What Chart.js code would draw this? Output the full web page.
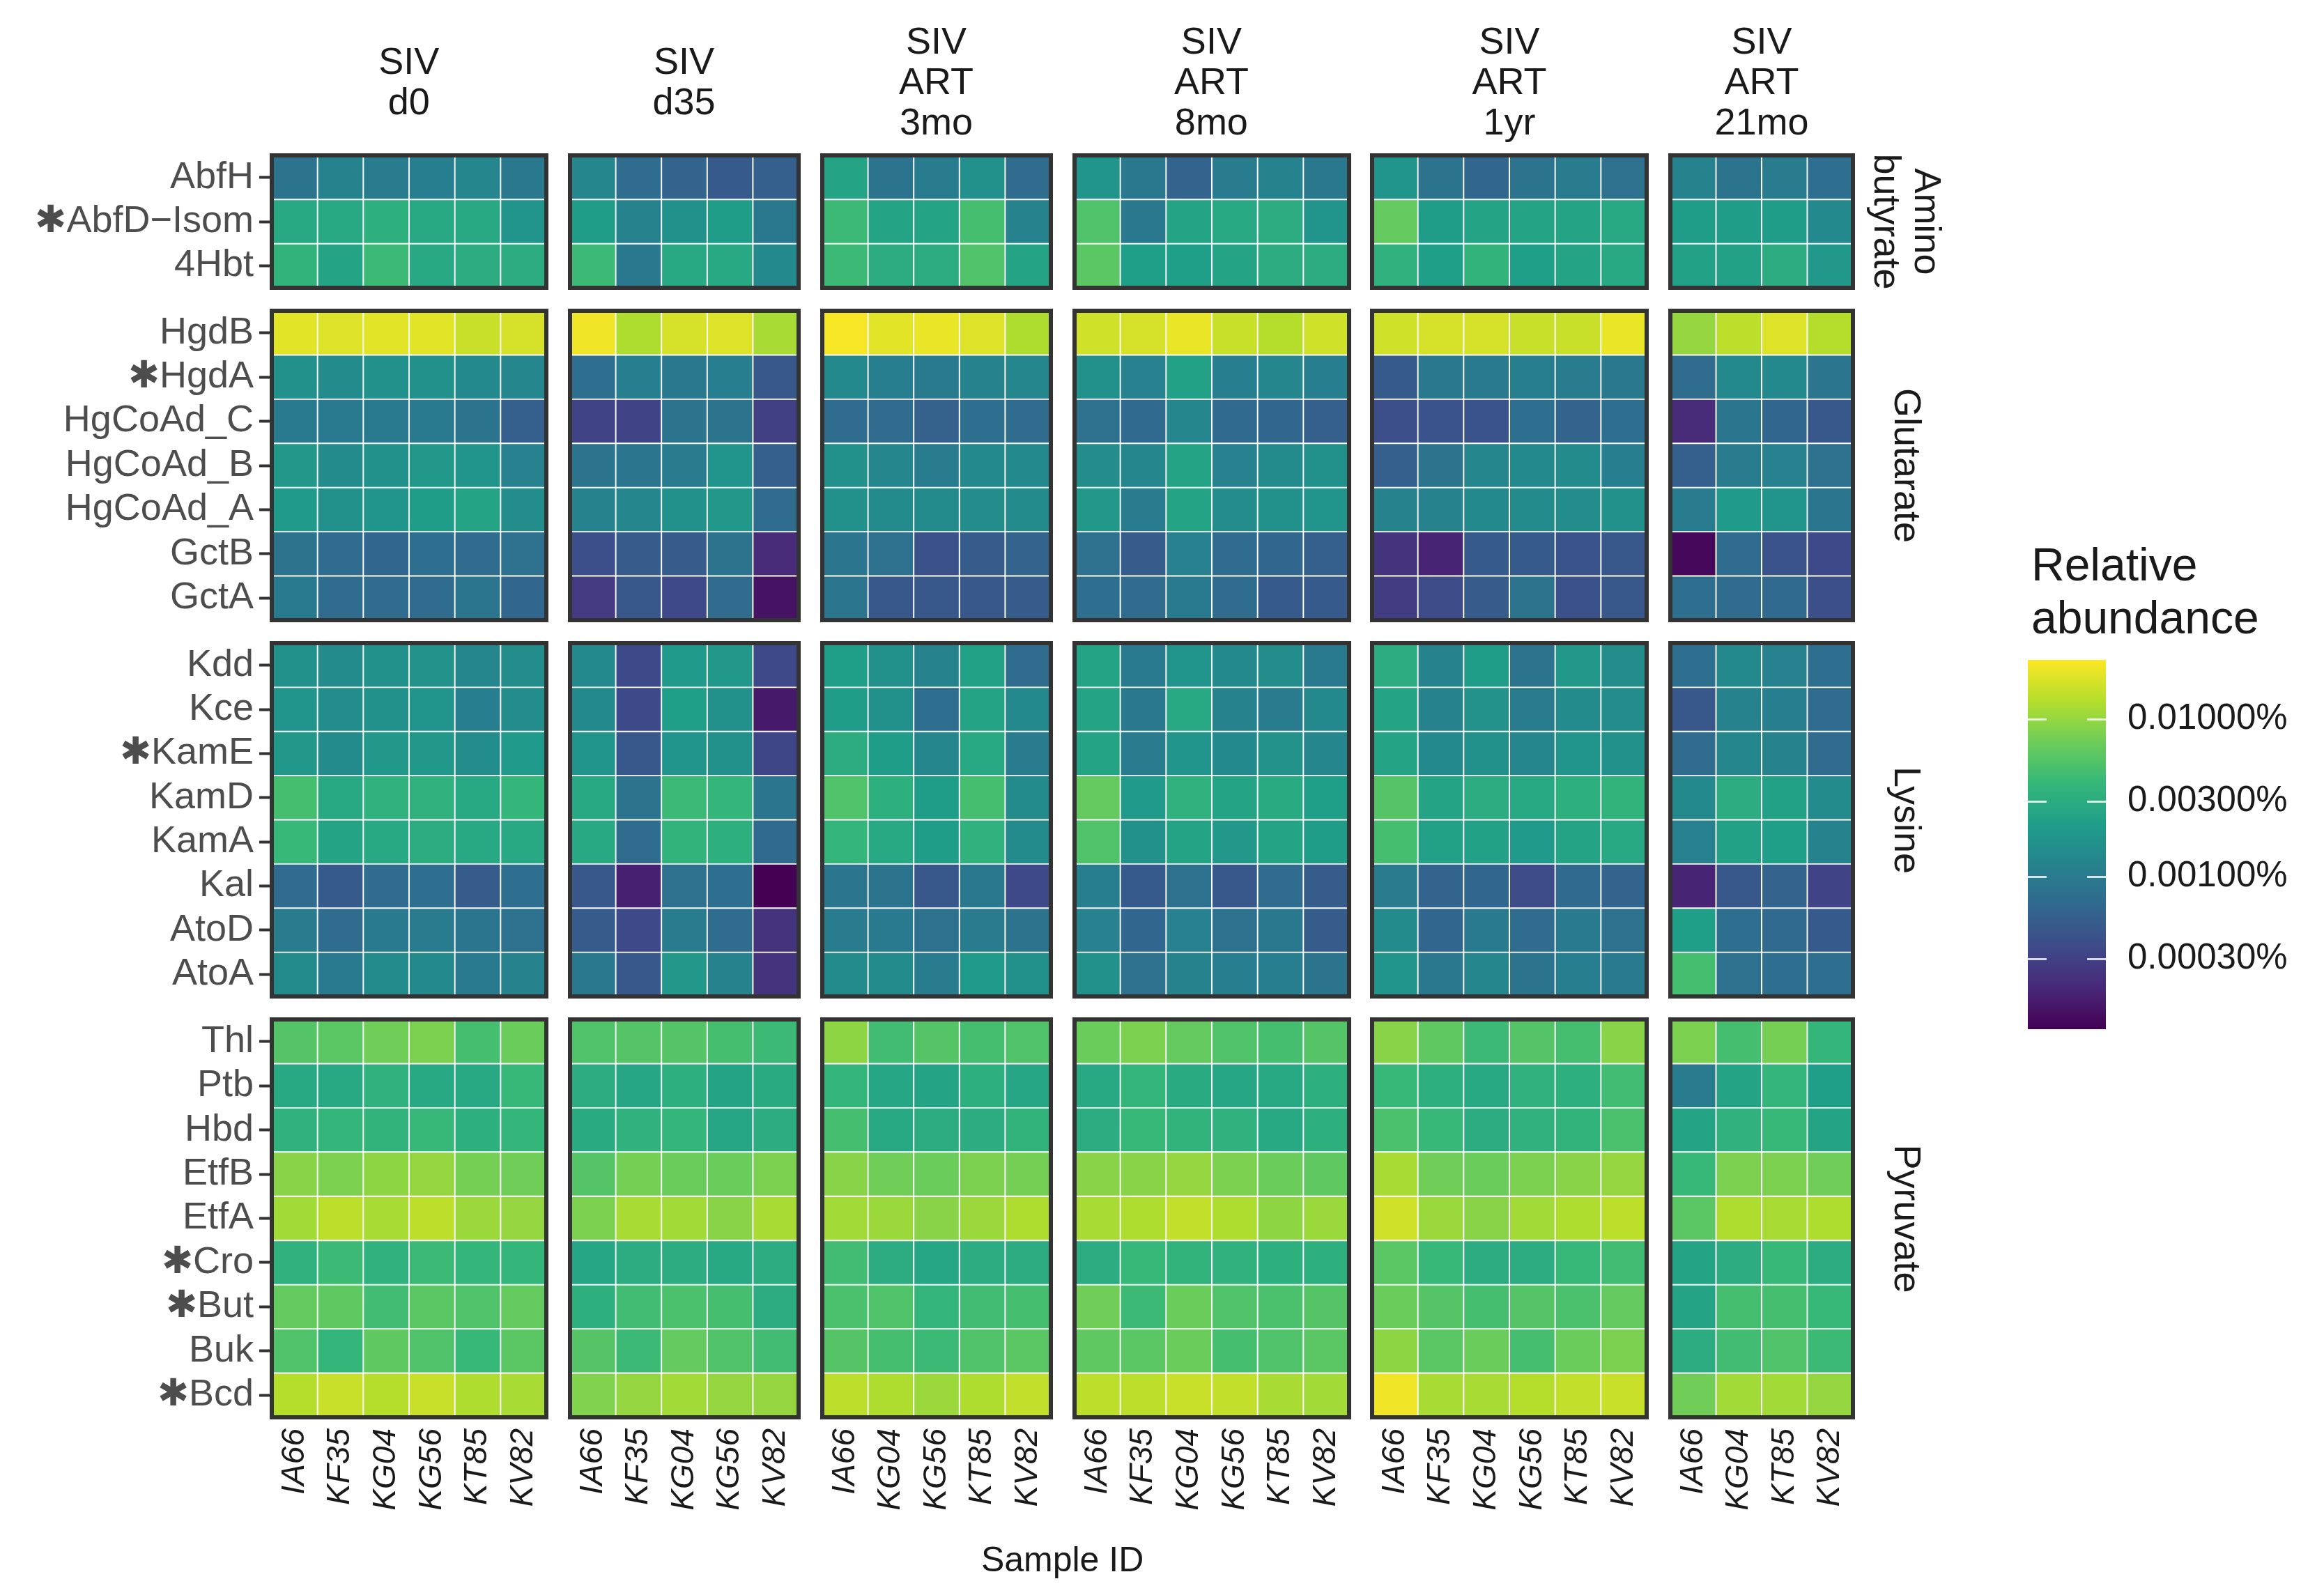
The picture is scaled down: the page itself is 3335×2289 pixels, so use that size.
<!DOCTYPE html>
<html>
<head>
<meta charset="utf-8">
<script src="https://cdn.jsdelivr.net/npm/chart.js@4.4.1/dist/chart.umd.min.js"></script>
<style>
  html, body { margin: 0; padding: 0; background: #fff; }
  #fig { position: relative; width: 3335px; height: 2289px; overflow: hidden;
         font-family: 'Liberation Sans', Arial, sans-serif; background: #fff; }
  #fig canvas { position: absolute; }
  .strip-top { position: absolute; text-align: center; font-size: 54px; line-height: 58px; color: #1a1a1a; }
  .strip-right { position: absolute; display: flex; align-items: center; justify-content: center;
                 text-align: center; font-size: 54px; line-height: 58px; color: #1a1a1a;
                 transform: rotate(90deg); transform-origin: center center; }
  .axis-title { position: absolute; font-size: 50px; line-height: 60px; color: #1a1a1a; text-align: center; }
  .legend-title { position: absolute; font-size: 66px; line-height: 76px; color: #1a1a1a; }
</style>
</head>
<body>
<div id="fig"></div>
<script>
// facets
const timepoints = [['SIV', 'd0'], ['SIV', 'd35'], ['SIV', 'ART', '3mo'], ['SIV', 'ART', '8mo'], ['SIV', 'ART', '1yr'], ['SIV', 'ART', '21mo']];
const samplesByTime = [
  ['IA66', 'KF35', 'KG04', 'KG56', 'KT85', 'KV82'],
  ['IA66', 'KF35', 'KG04', 'KG56', 'KV82'],
  ['IA66', 'KG04', 'KG56', 'KT85', 'KV82'],
  ['IA66', 'KF35', 'KG04', 'KG56', 'KT85', 'KV82'],
  ['IA66', 'KF35', 'KG04', 'KG56', 'KT85', 'KV82'],
  ['IA66', 'KG04', 'KT85', 'KV82']
];
const pathways = [['Amino', 'butyrate'], ['Glutarate'], ['Lysine'], ['Pyruvate']];
const aminoGenes = ['AbfH', 'AbfD−Isom', '4Hbt'];
const glutarateGenes = ['HgdB', 'HgdA', 'HgCoAd_C', 'HgCoAd_B', 'HgCoAd_A', 'GctB', 'GctA'];
const lysineGenes = ['Kdd', 'Kce', 'KamE', 'KamD', 'KamA', 'Kal', 'AtoD', 'AtoA'];
const pyruvateGenes = ['Thl', 'Ptb', 'Hbd', 'EtfB', 'EtfA', 'Cro', 'But', 'Buk', 'Bcd'];
const genesByPathway = [aminoGenes, glutarateGenes, lysineGenes, pyruvateGenes];
const starredGenes = ['AbfD−Isom', 'HgdA', 'KamE', 'Cro', 'But', 'Bcd'];

// relative abundance (%), one row per gene (amino, glutarate, lysine, pyruvate order), one value per sample
const abund_d0 = [
  [0.000835, 0.00122, 0.00104, 0.00109, 0.00129, 0.000930],
  [0.00274, 0.00274, 0.00322, 0.00274, 0.00274, 0.00178],
  [0.00359, 0.00246, 0.00422, 0.00274, 0.00305, 0.00305],
  [0.0191, 0.0182, 0.0191, 0.0191, 0.0154, 0.0172],
  [0.00160, 0.00143, 0.00160, 0.00160, 0.00136, 0.00129],
  [0.000982, 0.000982, 0.000982, 0.000982, 0.000835, 0.000541],
  [0.00188, 0.00143, 0.00160, 0.00188, 0.00178, 0.00115],
  [0.00198, 0.00160, 0.00178, 0.00209, 0.00246, 0.00151],
  [0.000835, 0.000710, 0.000637, 0.000749, 0.000710, 0.000791],
  [0.000982, 0.000710, 0.000710, 0.000710, 0.000881, 0.000637],
  [0.00160, 0.00143, 0.00160, 0.00168, 0.00129, 0.00151],
  [0.00178, 0.00151, 0.00160, 0.00178, 0.00109, 0.00151],
  [0.00188, 0.00143, 0.00188, 0.00188, 0.00151, 0.00198],
  [0.00470, 0.00274, 0.00340, 0.00340, 0.00274, 0.00379],
  [0.00400, 0.00246, 0.00274, 0.00305, 0.00274, 0.00274],
  [0.000710, 0.000486, 0.000710, 0.000749, 0.000513, 0.000749],
  [0.00104, 0.000710, 0.000982, 0.00104, 0.000881, 0.000791],
  [0.00143, 0.000982, 0.00143, 0.00136, 0.000982, 0.00122],
  [0.00553, 0.00584, 0.00725, 0.00807, 0.00470, 0.00687],
  [0.00274, 0.00274, 0.00340, 0.00274, 0.00274, 0.00400],
  [0.00340, 0.00379, 0.00359, 0.00400, 0.00322, 0.00379],
  [0.00899, 0.00807, 0.00949, 0.0100, 0.00764, 0.00725],
  [0.0112, 0.0138, 0.0118, 0.0138, 0.0106, 0.0100],
  [0.00340, 0.00422, 0.00340, 0.00422, 0.00379, 0.00379],
  [0.00650, 0.00616, 0.00446, 0.00584, 0.00524, 0.00650],
  [0.00524, 0.00379, 0.00616, 0.00524, 0.00400, 0.00584],
  [0.0131, 0.0154, 0.0131, 0.0154, 0.0124, 0.0118]
];
const abund_d35 = [
  [0.00129, 0.000710, 0.000603, 0.000486, 0.000541],
  [0.00209, 0.00122, 0.00160, 0.00209, 0.000930],
  [0.00422, 0.000930, 0.00274, 0.00274, 0.00136],
  [0.0213, 0.0124, 0.0172, 0.0182, 0.0118],
  [0.000749, 0.00109, 0.000930, 0.00109, 0.000460],
  [0.000316, 0.000316, 0.000835, 0.000835, 0.000299],
  [0.000835, 0.000881, 0.00104, 0.00178, 0.000541],
  [0.00122, 0.00129, 0.00160, 0.00188, 0.000710],
  [0.000392, 0.000513, 0.000513, 0.000835, 0.000205],
  [0.000269, 0.000460, 0.000352, 0.000710, 0.000140],
  [0.00136, 0.000352, 0.00198, 0.00188, 0.000352],
  [0.00136, 0.000352, 0.00221, 0.00160, 0.000156],
  [0.00178, 0.000460, 0.00178, 0.00160, 0.000333],
  [0.00274, 0.000835, 0.00422, 0.00379, 0.000881],
  [0.00274, 0.000710, 0.00359, 0.00322, 0.000672],
  [0.000460, 0.000174, 0.000791, 0.000749, 0.000107],
  [0.000513, 0.000352, 0.00104, 0.000710, 0.000241],
  [0.000930, 0.000460, 0.00188, 0.00122, 0.000241],
  [0.00524, 0.00553, 0.00553, 0.00470, 0.00422],
  [0.00305, 0.00260, 0.00322, 0.00246, 0.00289],
  [0.00289, 0.00340, 0.00379, 0.00260, 0.00305],
  [0.00553, 0.00764, 0.00687, 0.00687, 0.00807],
  [0.00807, 0.0118, 0.0112, 0.00899, 0.0118],
  [0.00260, 0.00305, 0.00305, 0.00274, 0.00305],
  [0.00322, 0.00446, 0.00496, 0.00470, 0.00305],
  [0.00553, 0.00422, 0.00650, 0.00524, 0.00446],
  [0.00851, 0.0100, 0.0112, 0.0100, 0.0100]
];
const abund_3mo = [
  [0.00246, 0.000835, 0.00104, 0.00160, 0.000710],
  [0.00422, 0.00246, 0.00246, 0.00470, 0.00122],
  [0.00422, 0.00305, 0.00305, 0.00524, 0.00246],
  [0.0225, 0.0191, 0.0202, 0.0182, 0.0124],
  [0.00136, 0.00109, 0.000982, 0.00122, 0.00129],
  [0.000710, 0.000710, 0.000571, 0.000749, 0.000710],
  [0.00160, 0.00129, 0.00104, 0.00136, 0.00136],
  [0.00160, 0.00143, 0.00143, 0.00151, 0.00143],
  [0.000881, 0.000791, 0.000413, 0.000513, 0.000603],
  [0.000881, 0.000460, 0.000460, 0.000460, 0.000513],
  [0.00221, 0.00160, 0.00122, 0.00233, 0.000710],
  [0.00209, 0.00160, 0.000749, 0.00246, 0.00136],
  [0.00305, 0.00209, 0.00129, 0.00274, 0.00104],
  [0.00524, 0.00322, 0.00209, 0.00470, 0.00143],
  [0.00379, 0.00274, 0.00209, 0.00340, 0.00143],
  [0.000881, 0.000835, 0.000460, 0.000930, 0.000352],
  [0.00104, 0.000982, 0.000791, 0.00104, 0.000835],
  [0.00143, 0.00143, 0.00104, 0.00198, 0.00160],
  [0.00949, 0.00446, 0.00553, 0.00470, 0.00524],
  [0.00379, 0.00260, 0.00246, 0.00322, 0.00260],
  [0.00470, 0.00274, 0.00305, 0.00305, 0.00359],
  [0.00899, 0.00725, 0.00687, 0.00807, 0.00764],
  [0.0112, 0.0106, 0.00899, 0.0106, 0.0124],
  [0.00446, 0.00305, 0.00260, 0.00305, 0.00305],
  [0.00496, 0.00524, 0.00379, 0.00446, 0.00470],
  [0.00553, 0.00470, 0.00422, 0.00524, 0.00584],
  [0.0138, 0.0124, 0.0106, 0.0124, 0.0146]
];
const abund_8mo = [
  [0.00178, 0.000930, 0.000603, 0.00104, 0.00122, 0.000930],
  [0.00524, 0.000930, 0.00246, 0.00274, 0.00305, 0.00178],
  [0.00584, 0.00221, 0.00221, 0.00246, 0.00305, 0.00305],
  [0.0163, 0.0172, 0.0202, 0.0154, 0.0131, 0.0163],
  [0.00160, 0.00115, 0.00233, 0.00109, 0.00129, 0.00109],
  [0.000791, 0.000672, 0.00129, 0.000672, 0.000637, 0.000541],
  [0.00151, 0.00129, 0.00246, 0.00115, 0.00143, 0.00160],
  [0.00188, 0.00104, 0.00246, 0.00151, 0.00160, 0.00178],
  [0.000791, 0.000513, 0.00115, 0.000710, 0.000637, 0.000541],
  [0.000749, 0.000710, 0.000982, 0.000710, 0.000486, 0.000486],
  [0.00246, 0.000982, 0.00178, 0.00136, 0.00151, 0.000982],
  [0.00246, 0.000930, 0.00274, 0.00122, 0.00104, 0.00136],
  [0.00246, 0.00104, 0.00178, 0.00136, 0.00168, 0.00129],
  [0.00650, 0.00198, 0.00340, 0.00246, 0.00289, 0.00221],
  [0.00524, 0.00160, 0.00246, 0.00188, 0.00246, 0.00209],
  [0.00109, 0.000486, 0.000791, 0.000460, 0.000710, 0.000513],
  [0.00115, 0.000637, 0.00115, 0.000791, 0.000930, 0.000513],
  [0.00160, 0.000791, 0.00122, 0.00109, 0.00109, 0.000835],
  [0.00687, 0.00807, 0.00650, 0.00524, 0.00470, 0.00553],
  [0.00274, 0.00379, 0.00289, 0.00260, 0.00274, 0.00322],
  [0.00305, 0.00400, 0.00359, 0.00340, 0.00274, 0.00322],
  [0.00899, 0.00899, 0.0100, 0.00807, 0.00687, 0.00616],
  [0.0118, 0.0124, 0.0146, 0.0124, 0.00949, 0.0106],
  [0.00305, 0.00400, 0.00359, 0.00340, 0.00322, 0.00322],
  [0.00725, 0.00422, 0.00687, 0.00524, 0.00496, 0.00553],
  [0.00616, 0.00584, 0.00687, 0.00470, 0.00524, 0.00584],
  [0.0138, 0.0138, 0.0154, 0.0146, 0.0118, 0.0112]
];
const abund_1yr = [
  [0.00178, 0.000835, 0.000637, 0.000835, 0.00104, 0.000791],
  [0.00650, 0.00209, 0.00246, 0.00246, 0.00246, 0.00274],
  [0.00340, 0.00221, 0.00359, 0.00221, 0.00246, 0.00274],
  [0.0163, 0.0172, 0.0172, 0.0154, 0.0154, 0.0202],
  [0.000486, 0.000930, 0.000982, 0.00109, 0.00104, 0.000930],
  [0.000392, 0.000436, 0.000436, 0.000749, 0.000603, 0.000749],
  [0.000541, 0.000835, 0.00129, 0.00136, 0.00143, 0.00109],
  [0.00122, 0.00122, 0.00136, 0.00143, 0.00151, 0.00160],
  [0.000241, 0.000184, 0.000486, 0.000486, 0.000436, 0.000460],
  [0.000283, 0.000371, 0.000513, 0.000835, 0.000413, 0.000460],
  [0.00305, 0.00122, 0.00209, 0.000835, 0.00188, 0.00151],
  [0.00246, 0.00122, 0.00168, 0.00104, 0.00143, 0.00151],
  [0.00246, 0.00136, 0.00160, 0.00129, 0.00178, 0.00160],
  [0.00553, 0.00246, 0.00305, 0.00274, 0.00322, 0.00359],
  [0.00470, 0.00233, 0.00233, 0.00198, 0.00246, 0.00274],
  [0.00104, 0.000603, 0.000637, 0.000371, 0.000672, 0.000603],
  [0.00143, 0.000637, 0.000982, 0.000710, 0.000982, 0.000791],
  [0.00178, 0.000930, 0.00129, 0.000835, 0.00109, 0.000982],
  [0.00899, 0.00616, 0.00422, 0.00553, 0.00470, 0.00899],
  [0.00400, 0.00322, 0.00274, 0.00340, 0.00322, 0.00446],
  [0.00496, 0.00400, 0.00305, 0.00340, 0.00359, 0.00496],
  [0.0118, 0.00725, 0.00687, 0.00807, 0.00899, 0.0100],
  [0.0163, 0.0106, 0.00899, 0.0112, 0.0124, 0.0138],
  [0.00584, 0.00400, 0.00305, 0.00305, 0.00400, 0.00446],
  [0.00687, 0.00553, 0.00470, 0.00553, 0.00496, 0.00650],
  [0.00949, 0.00584, 0.00687, 0.00470, 0.00687, 0.00807],
  [0.0213, 0.0118, 0.0118, 0.0131, 0.0146, 0.0154]
];
const abund_21mo = [
  [0.00122, 0.000835, 0.00104, 0.000749],
  [0.00209, 0.00209, 0.00209, 0.00136],
  [0.00233, 0.00233, 0.00305, 0.00188],
  [0.0100, 0.0138, 0.0182, 0.0131],
  [0.000710, 0.00136, 0.00136, 0.000881],
  [0.000205, 0.000881, 0.000637, 0.000460],
  [0.000541, 0.00104, 0.00115, 0.000791],
  [0.00104, 0.00198, 0.00178, 0.000881],
  [0.000119, 0.000710, 0.000436, 0.000352],
  [0.000749, 0.000710, 0.000672, 0.000392],
  [0.000749, 0.00136, 0.00115, 0.000749],
  [0.000460, 0.00122, 0.00109, 0.000710],
  [0.000710, 0.00129, 0.00122, 0.000710],
  [0.00136, 0.00305, 0.00233, 0.00143],
  [0.00115, 0.00233, 0.00221, 0.00122],
  [0.000184, 0.000460, 0.000603, 0.000316],
  [0.00221, 0.000749, 0.000672, 0.000486],
  [0.00470, 0.000791, 0.000749, 0.000749],
  [0.00807, 0.00470, 0.00764, 0.00379],
  [0.00104, 0.00246, 0.00379, 0.00221],
  [0.00246, 0.00340, 0.00400, 0.00246],
  [0.00400, 0.00807, 0.00807, 0.00725],
  [0.00584, 0.0124, 0.0118, 0.0124],
  [0.00246, 0.00305, 0.00400, 0.00305],
  [0.00246, 0.00470, 0.00470, 0.00400],
  [0.00305, 0.00446, 0.00524, 0.00422],
  [0.00725, 0.0112, 0.0112, 0.0100]
];
const abundByTime = [abund_d0, abund_d35, abund_3mo, abund_8mo, abund_1yr, abund_21mo];

// colour scale (log10 of %)
const legendTicks = [0.0003, 0.001, 0.003, 0.01];
const LOG_MIN = -3.97, LOG_MAX = -1.624;
const VIRIDIS = ['#440154', '#482878', '#3e4a89', '#31688e', '#26828e', '#1f9e89', '#35b779', '#6dcd59', '#b4de2c', '#fde725'];

// layout
const X0 = 390, CELL_W = 65.6, GAP_X = 34;
const Y0 = 223, ROW_H = 63.4, GAP_Y = 33;
const PAD = 6, X_AXIS_H = 190;

Chart.defaults.font.family = "'Liberation Sans', Arial, sans-serif";

function hexToRgb(h) {
  return [parseInt(h.slice(1, 3), 16), parseInt(h.slice(3, 5), 16), parseInt(h.slice(5, 7), 16)];
}
const viridisRgb = VIRIDIS.map(hexToRgb);

function colorFor(v) {
  let t = (Math.log10(v) - LOG_MIN) / (LOG_MAX - LOG_MIN);
  t = Math.max(0, Math.min(1, t));
  const p = t * (viridisRgb.length - 1);
  const i = Math.min(Math.floor(p), viridisRgb.length - 2);
  const f = p - i;
  const a = viridisRgb[i], b = viridisRgb[i + 1];
  const c = a.map((x, k) => Math.round(x + (b[k] - x) * f));
  return 'rgb(' + c.join(',') + ')';
}

// keep the axes from shrinking the plot area to fit their end labels
function noScalePadding(s) {
  s.paddingTop = 0; s.paddingBottom = 0; s.paddingLeft = 0; s.paddingRight = 0;
}

const fig = document.getElementById('fig');

// panel positions
const panelX = [];
let x = X0;
samplesByTime.forEach(s => { panelX.push(x); x += s.length * CELL_W + GAP_X; });
const panelY = [];
let y = Y0;
genesByPathway.forEach(g => { panelY.push(y); y += g.length * ROW_H + GAP_Y; });

const frame = {
  id: 'frame',
  afterDatasetsDraw(chart) {
    const a = chart.chartArea, ctx = chart.ctx;
    ctx.save();
    ctx.strokeStyle = '#333333';
    ctx.lineWidth = 6;
    ctx.strokeRect(a.left, a.top, a.right - a.left, a.bottom - a.top);
    ctx.restore();
  }
};

function makePanel(r, c) {
  const samples = samplesByTime[c];
  const genes = genesByPathway[r];
  const rowOffset = genesByPathway.slice(0, r).reduce((n, g) => n + g.length, 0);
  const values = abundByTime[c];
  const showY = c === 0;
  const showX = r === genesByPathway.length - 1;
  const px = panelX[c], py = panelY[r];
  const pw = samples.length * CELL_W, ph = genes.length * ROW_H;

  const left = showY ? 0 : px - PAD;
  const top = py - PAD;
  const width = Math.round(px + pw + PAD - left);
  const height = Math.round((showX ? py + ph + X_AXIS_H : py + ph + PAD) - top);

  const canvas = document.createElement('canvas');
  canvas.width = width;
  canvas.height = height;
  canvas.style.left = left + 'px';
  canvas.style.top = top + 'px';
  fig.appendChild(canvas);

  new Chart(canvas, {
    type: 'bar',
    data: {
      labels: samples,
      datasets: genes.map((g, i) => ({
        label: g,
        data: samples.map(() => [i - 0.5, i + 0.5]),
        backgroundColor: samples.map((s, j) => colorFor(values[rowOffset + i][j])),
        borderColor: '#ffffff',
        borderWidth: 1.3,
        borderSkipped: false,
        grouped: false,
        barPercentage: 1,
        categoryPercentage: 1
      }))
    },
    options: {
      responsive: false,
      animation: false,
      devicePixelRatio: 1,
      layout: { padding: { left: showY ? 0 : PAD, right: PAD, top: PAD, bottom: showX ? 0 : PAD } },
      plugins: { legend: { display: false }, tooltip: { enabled: false } },
      scales: {
        x: {
          type: 'category',
          display: showX,
          grid: { display: false, drawTicks: false },
          border: { display: false },
          ticks: {
            autoSkip: false, minRotation: 90, maxRotation: 90, padding: 16,
            color: '#1a1a1a', font: { size: 46, style: 'italic' }
          },
          afterFit: s => { noScalePadding(s); if (showX) s.height = X_AXIS_H; }
        },
        y: {
          type: 'linear',
          reverse: true,
          min: -0.5,
          max: genes.length - 0.5,
          display: showY,
          afterBuildTicks: s => { s.ticks = genes.map((g, i) => ({ value: i })); },
          grid: { drawOnChartArea: false, drawTicks: true, tickLength: 18, tickWidth: 4, tickColor: '#333333' },
          border: { display: false },
          ticks: {
            autoSkip: false, padding: 8, color: '#4d4d4d', font: { size: 54 },
            callback: v => (starredGenes.includes(genes[v]) ? '✱' : '') + genes[v]
          },
          afterFit: s => { noScalePadding(s); if (showY) s.width = px; }
        }
      }
    },
    plugins: [frame]
  });
}

genesByPathway.forEach((g, r) => samplesByTime.forEach((s, c) => makePanel(r, c)));

// facet strips
timepoints.forEach((lines, c) => {
  const d = document.createElement('div');
  d.className = 'strip-top';
  const w = samplesByTime[c].length * CELL_W;
  d.style.left = panelX[c] + 'px';
  d.style.width = w + 'px';
  d.style.top = (116 - lines.length * 29) + 'px';
  d.innerHTML = lines.join('<br>');
  fig.appendChild(d);
});
pathways.forEach((lines, r) => {
  const d = document.createElement('div');
  d.className = 'strip-right';
  const h = genesByPathway[r].length * ROW_H;
  const boxH = 130;
  d.style.width = h + 'px';
  d.style.height = boxH + 'px';
  d.style.left = (2738 - h / 2) + 'px';
  d.style.top = (panelY[r] + h / 2 - boxH / 2) + 'px';
  d.innerHTML = '<span>' + lines.join('<br>') + '</span>';
  fig.appendChild(d);
});

// axis title
const xt = document.createElement('div');
xt.className = 'axis-title';
xt.style.left = X0 + 'px';
xt.style.width = (x - GAP_X - X0) + 'px';
xt.style.top = '2208px';
xt.textContent = 'Sample ID';
fig.appendChild(xt);

// legend
const lt = document.createElement('div');
lt.className = 'legend-title';
lt.style.left = '2915px';
lt.style.top = '772px';
lt.innerHTML = 'Relative<br>abundance';
fig.appendChild(lt);

const legCanvas = document.createElement('canvas');
legCanvas.width = 420;
legCanvas.height = 550;
legCanvas.style.left = '2900px';
legCanvas.style.top = '937px';
fig.appendChild(legCanvas);

const legendMarks = {
  id: 'legendMarks',
  afterDatasetsDraw(chart) {
    const a = chart.chartArea, ctx = chart.ctx, sc = chart.scales.y;
    const len = (a.right - a.left) * 0.24;
    ctx.save();
    ctx.strokeStyle = 'rgba(255,255,255,0.8)';
    ctx.lineWidth = 3;
    legendTicks.forEach(v => {
      const py = Math.round(sc.getPixelForValue(v)) + 0.5;
      ctx.beginPath();
      ctx.moveTo(a.left, py); ctx.lineTo(a.left + len, py);
      ctx.moveTo(a.right - len, py); ctx.lineTo(a.right, py);
      ctx.stroke();
    });
    ctx.restore();
  }
};

new Chart(legCanvas, {
  type: 'bar',
  data: {
    labels: [''],
    datasets: [{
      data: [[10 ** LOG_MIN, 10 ** LOG_MAX]],
      backgroundColor: ctx => {
        const a = ctx.chart.chartArea;
        if (!a) return VIRIDIS[5];
        const g = ctx.chart.ctx.createLinearGradient(0, a.bottom, 0, a.top);
        VIRIDIS.forEach((col, i) => g.addColorStop(i / (VIRIDIS.length - 1), col));
        return g;
      },
      borderWidth: 0,
      barPercentage: 1,
      categoryPercentage: 1
    }]
  },
  options: {
    responsive: false,
    animation: false,
    devicePixelRatio: 1,
    layout: { padding: { left: 10, top: 10, bottom: 10, right: 0 } },
    plugins: { legend: { display: false }, tooltip: { enabled: false } },
    scales: {
      x: { display: false, afterFit: noScalePadding },
      y: {
        type: 'logarithmic',
        position: 'right',
        min: 10 ** LOG_MIN,
        max: 10 ** LOG_MAX,
        afterBuildTicks: s => { s.ticks = legendTicks.map(v => ({ value: v })); },
        grid: { display: false, drawTicks: false },
        border: { display: false },
        ticks: { autoSkip: false, padding: 31, color: '#1a1a1a', font: { size: 51 }, callback: v => v.toFixed(5) + '%' },
        afterFit: s => { noScalePadding(s); s.width = 298; }
      }
    }
  },
  plugins: [legendMarks]
});
</script>
</body>
</html>
